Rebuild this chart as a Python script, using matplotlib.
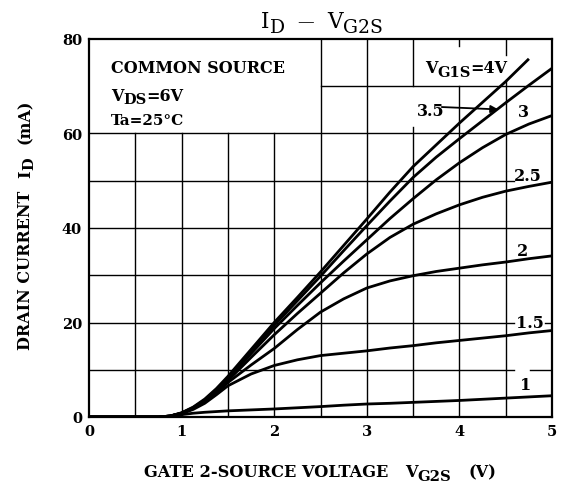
import matplotlib
matplotlib.use("Agg")
import matplotlib.pyplot as plt
from matplotlib.transforms import IdentityTransform

# ---------------- data ----------------
vg2s = [0, 0.75, 0.875, 1.0, 1.125, 1.25, 1.375, 1.5, 1.75, 2.0, 2.25, 2.5,
        2.75, 3.0, 3.25, 3.5, 3.75, 4.0, 4.25, 4.5, 4.75, 5.0]
vg2s_4v = [0, 0.75, 0.875, 1.0, 1.125, 1.25, 1.375, 1.5, 1.75, 2.0, 2.25, 2.5,
           2.75, 3.0, 3.25, 3.5, 3.75, 4.0, 4.25, 4.5, 4.74]
id_4v = [0, 0, 0.2, 0.9, 2.1, 3.8, 6.0, 8.6, 14.3, 20.0, 25.3, 30.7, 36.3,
         41.9, 47.6, 53.0, 57.6, 62.2, 66.6, 71.0, 75.6]
id_3v5 = [0, 0, 0.2, 0.85, 2.0, 3.6, 5.8, 8.3, 13.9, 19.4, 24.6, 29.8, 35.2,
          40.5, 45.7, 50.7, 55.0, 58.9, 62.7, 66.5, 70.2, 73.8]
id_3v = [0, 0, 0.2, 0.8, 1.9, 3.5, 5.6, 8.0, 13.4, 18.7, 23.6, 28.4, 33.0,
         37.5, 42.0, 46.2, 50.2, 53.8, 57.0, 59.8, 62.0, 63.8]
id_2v5 = [0, 0, 0.2, 0.8, 1.9, 3.4, 5.4, 7.7, 12.6, 17.4, 21.9, 26.2, 30.5,
          34.5, 38.0, 40.8, 43.0, 44.9, 46.5, 47.8, 48.8, 49.7]
id_2v = [0, 0, 0.2, 0.75, 1.8, 3.2, 5.1, 7.3, 11.0, 14.5, 18.5, 22.2, 25.0,
         27.3, 28.8, 29.9, 30.8, 31.5, 32.2, 32.8, 33.5, 34.1]
id_1v5 = [0, 0, 0.2, 0.7, 1.6, 2.9, 4.7, 6.6, 9.1, 10.9, 12.1, 13.0, 13.5,
          14.0, 14.6, 15.1, 15.7, 16.2, 16.7, 17.2, 17.8, 18.3]
id_1v = [0, 0, 0.15, 0.5, 0.8, 1.0, 1.15, 1.3, 1.5, 1.7, 1.95, 2.2, 2.5,
         2.75, 2.9, 3.1, 3.3, 3.5, 3.75, 4.0, 4.25, 4.5]

x_ticks = [0, 1, 2, 3, 4, 5]
y_ticks = [0, 20, 40, 60, 80]
curve_labels = ["3.5", "3", "2.5", "2", "1.5", "1"]

# ---------------- figure ----------------
W, H = 563, 485
fig = plt.figure(figsize=(W / 100, H / 100), dpi=100)
ax = fig.add_axes([89 / W, (H - 418) / H, (552 - 89) / W, (418 - 40) / H])
ax.set_xlim(0, 5)
ax.set_ylim(0, 80)

SERIF = "DejaVu Serif"
glw = 1.0
# grid segments (with the gaps of the original drawing)
vsegs = [(0.5, 0, 60), (1.0, 0, 60), (1.5, 0, 60), (2.0, 0, 60),
         (2.5, 0, 80), (3.0, 0, 80), (3.5, 0, 61.4), (3.5, 70, 80),
         (4.0, 0, 70), (4.0, 78.5, 80), (4.5, 0, 71.4), (4.5, 76.6, 80)]
hsegs = [(10, 0, 4.585), (10, 4.76, 5), (20, 0, 4.585), (20, 4.92, 5),
         (30, 0, 5), (40, 0, 5), (50, 0, 4.585), (60, 0, 5), (70, 2.5, 5)]
for xv, y0, y1 in vsegs:
    ax.plot([xv, xv], [y0, y1], color="k", lw=glw, zorder=1)
for yv, x0, x1 in hsegs:
    ax.plot([x0, x1], [yv, yv], color="k", lw=glw, zorder=1)

clw = 2.0
for xs, ys in [(vg2s_4v, id_4v), (vg2s, id_3v5), (vg2s, id_3v),
               (vg2s, id_2v5), (vg2s, id_2v), (vg2s, id_1v5), (vg2s, id_1v)]:
    ax.plot(xs, ys, color="k", lw=clw, zorder=3, solid_joinstyle="round")

for sp in ax.spines.values():
    sp.set_linewidth(1.6)
ax.set_xticks(x_ticks)
ax.set_yticks(y_ticks)
ax.set_xticklabels([str(v) for v in x_ticks], fontfamily=SERIF,
                   fontweight="bold", fontsize=10.5)
ax.set_yticklabels([str(v) for v in y_ticks], fontfamily=SERIF,
                   fontweight="bold", fontsize=10.5)
ax.tick_params(length=0, pad=5)

ax.annotate("", xy=(4.42, 65.1), xytext=(3.81, 65.6),
            arrowprops=dict(arrowstyle="-|>", color="k", lw=1.3,
                            mutation_scale=11, shrinkA=0, shrinkB=0),
            zorder=4)

renderer = fig.canvas.get_renderer()


def rich(x, y, pieces, ha="left", rot=0, weight="bold"):
    """pieces: (text, size_pt, drop_px) or (None, gap_px). x,y: image px of baseline."""
    items = []
    for p in pieces:
        if p[0] is None:
            items.append((None, p[1], 0))
            continue
        s, size, drop = p
        t = fig.text(0, 0, s, fontsize=size, fontfamily=SERIF,
                     fontweight=weight, transform=IdentityTransform(),
                     va="baseline", ha="left", rotation=rot,
                     rotation_mode="anchor")
        bb = t.get_window_extent(renderer)
        w = bb.width if rot == 0 else bb.height
        items.append((t, w, drop))
    total = sum(w for _, w, _ in items)
    pos = x - total / 2 if ha == "center" else x
    if rot == 0:
        for t, w, drop in items:
            if t is not None:
                t.set_position((pos, H - y - drop))
            pos += w
    else:
        start = (H - y) - total / 2 if ha == "center" else (H - y)
        for t, w, drop in items:
            if t is not None:
                t.set_position((x + drop, start))
            start += w


# title
rich(322, 28, [("I", 15.5, 0), ("D", 13.5, 5), (None, 13), ("\u2014", 12, -1),
               (None, 13), ("V", 15.5, 0), ("G2S", 13.5, 5)],
     ha="center", weight="normal")
# inside labels
rich(111, 73, [("COMMON SOURCE", 11.5, 0)])
rich(111, 101, [("V", 11.5, 0), ("DS", 10.5, 3), ("=6V", 11.5, 0)])
rich(111, 125, [("Ta=25\u00b0C", 11, 0)])
rich(425, 73, [("V", 11.5, 0), ("G1S", 10.5, 4), ("=4V", 11.5, 0)])
label_pos = [(417, 116), (518, 117), (514, 181), (517, 256), (516, 328), (520, 390)]
for lab, (lx, ly) in zip(curve_labels, label_pos):
    rich(lx, ly, [(lab, 11.5, 0)])
# axis labels
rich(320, 477, [("GATE 2-SOURCE VOLTAGE", 11.7, 0), (None, 17), ("V", 11.7, 0),
                ("G2S", 10.7, 4), (None, 17), ("(V)", 11.7, 0)], ha="center")
rich(30, 225, [("DRAIN CURRENT", 11.5, 0), (None, 13), ("I", 11.5, 0),
               ("D", 10.5, 3), (None, 13), ("(mA)", 11.5, 0)], ha="center", rot=90)

fig.savefig("out.png", dpi=100)
